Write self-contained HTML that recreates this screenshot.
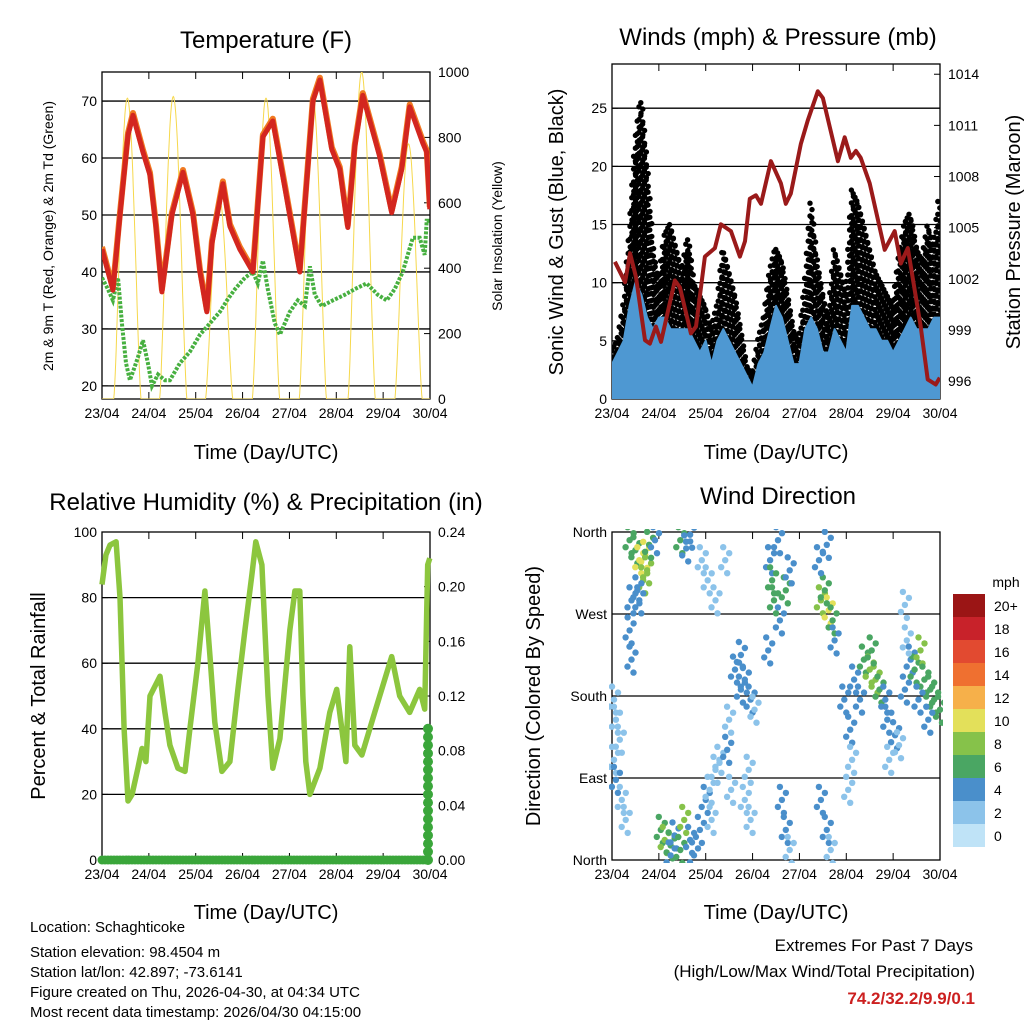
<!DOCTYPE html>
<html><head><meta charset="utf-8">
<style>
body{margin:0;background:#fff;}
svg{display:block;font-family:"Liberation Sans",sans-serif;}
</style></head>
<body>
<svg id="c" width="1024" height="1024" viewBox="0 0 1024 1024" xmlns="http://www.w3.org/2000/svg"></svg>
<script>
// ---------- DATA ----------
const dayLabels = ["23/04","24/04","25/04","26/04","27/04","28/04","29/04","30/04"];
const tempHours = [0,5.6,9.2,13.3,15.9,21,24.6,27.6,30.7,35.8,41.5,46.6,50.2,53.7,56.3,61.9,65.5,70.6,77.3,82.4,87.5,93.6,101.3,108,111.6,117.7,121.8,125.9,129.5,133.6,142.3,148.4,153.5,157.6,164.3,166.3,167.9];
const tempVals  = [44,36.8,50,64,67.5,61,57,48,36.5,50,57.5,50,40,33,45,55.5,48,44,40,63.7,66.5,55,40,70,73.7,61.5,58,47.8,62,71,60.2,50.4,58,69,62.6,61,51];
const tdHours = [0,3,5.6,8.2,10.2,12.3,14.3,16.4,18.4,21,23.5,25.6,28.7,32.2,34.8,39.9,45,50.2,55.3,60.4,64,68.1,73.2,77.3,79.8,82.4,84.9,88.5,91.1,96.2,100.3,103.9,106.5,109,112.6,118.2,124.4,129.5,135.6,141.2,145.8,149.9,154,159.2,162.7,165.3,166.3,167.9];
const tdVals  = [39,37,35,39,31,24,21,23,25,28,24,20,22,21,21,24,26,29,31,33,35,37,39,40,38,42,37,31,29,33,35,34,41,36,34,35,36,37,38,36,35,37,40,46,46,43,49,49];
const solarPeaks = [920,925,620,920,920,1000,780];
const solarNoonHour = [13,36.5,60,84,108,133,157];
const windHours = [0,3,6,9,12,15,18,21,24,27,30,33,36,39,42,45,48,51,54,57,60,63,66,69,72,75,78,81,84,87,90,93,96,99,102,105,108,111,114,117,120,123,126,129,132,135,138,141,144,147,150,153,156,159,162,165,168];
const gustVals = [4,5,8,14,22,26,20,13,10,14,15,13,11,14,10,9,8,6,8,13,11,9,6,3,2,5,7,11,13,12,9,6,5,10,17,12,9,7,13,11,9,18,17,15,13,11,10,9,8,12,15,16,13,12,15,13,18];
const sustVals = [3,4,5,8,10,9,7,6,7,7,6,6,6,6,5,4,5,3,5,6,5,4,3,2,1,3,4,6,8,7,5,3,3,6,7,6,4,4,6,5,4,8,8,7,6,6,5,5,4,5,6,7,6,6,6,7,7];
const presHours = [1.5,6.7,9.2,12.3,16.9,19.4,22.5,25.1,32.2,34.8,40.4,43,47.6,52.7,55.8,60.9,65.5,68.1,70.6,73.7,76.3,81.4,86.5,89,91.6,96.7,100.3,105.4,108,115.7,119.2,122.3,124.9,127.4,132,139.7,144.8,147.9,151.5,158.1,161.7,165.8,167.9];
const presVals  = [1003,1001.8,1003.5,1002.1,998.4,998.2,999.2,998.3,1001.9,1001.5,998.8,999.2,1003.3,1003.8,1005.2,1004.8,1003.3,1004.2,1006.7,1006.9,1006.4,1008.9,1007.6,1006.4,1007,1009.9,1011.3,1013,1012.6,1008.9,1010.3,1009.1,1009.5,1009.1,1007.6,1003.7,1004.8,1002.9,1003.8,999.2,996.1,995.8,996.2];
const rhHours = [0,2,4.1,7.2,9.2,11.3,13.3,15.4,18.4,20.5,22.5,24.6,29.7,32.2,34.8,38.9,42.5,45,49.1,52.7,55.3,57.8,61.4,65.5,69.6,73.2,76.8,78.8,81.9,85,87.5,91.1,96.2,98.8,101.3,102.9,104.4,106.5,111.6,116.7,120.2,122.8,124.9,126.9,129.5,133.1,139.7,144.8,148.4,152.5,157.6,162.7,165.3,166.8,167.9];
const rhVals  = [84,93,96,97,80,40,18,20,28,34,30,50,56,45,35,28,27,40,60,82,62,42,27,30,52,70,87,97,90,50,28,37,70,82,82,50,30,20,28,45,52,40,30,65,35,32,45,55,62,50,45,52,46,90,92];
const precipHours = [0,166,166.6,167.1,167.6,168];
const precipVals  = [0,0,0.02,0.05,0.08,0.1];
const dirHours = [1,2,4,5,7,2,1,9,12,14,17,18,16,13,19,22,10,14,9,10,25,27,30,32,35,40,45,37,30,42,35,38,40,48,50,53,55,51,46,49,53,58,63,66,68,71,60,66,73,59,61,68,71,70,81,83,86,89,80,85,82,91,87,89,91,107,111,109,113,106,110,114,107,110,112,119,122,123,124,127,121,129,132,135,137,133,140,141,145,147,142,153,155,158,160,163,165,168,157,162,150,150,151];
const dirDeg   = [110,88,132,66,44,154,176,351,340,329,335,318,307,296,346,351,285,285,252,220,33,22,16,27,11,22,33,44,5,5,351,342,357,66,77,99,110,44,329,307,285,329,209,187,198,176,154,225,165,121,77,66,44,99,329,285,263,296,230,351,307,318,66,33,11,285,274,296,263,329,346,241,66,33,11,176,143,110,198,176,77,220,209,198,187,230,176,154,137,126,110,220,209,230,198,187,176,165,176,154,187,280,241];
const dirSpeed = [2,3,1,1,2,1,1,5,6,9,10,8,7,4,6,3,4,3,3,3,6,7,5,4,6,3,4,7,4,3,6,4,3,3,2,1,2,2,1,1,1,1,4,3,4,3,2,3,2,3,2,1,1,2,4,5,4,6,3,4,5,3,3,3,2,8,10,6,5,4,3,4,3,3,2,3,3,2,4,3,2,6,7,8,5,6,4,3,3,2,2,4,6,7,5,6,5,6,3,4,3,1,1];
const speedColors = ["#bfe3f7","#8cc3ea","#4a8fcb","#4aa663","#86c24a","#e3e05a","#f6b04a","#ef7030","#e24a30","#c8222a","#9b1515"];
const speedLabels = ["0","2","4","6","8","10","12","14","16","18","20+"];

// ---------- HELPERS ----------
const NS="http://www.w3.org/2000/svg";
const svg=document.getElementById('c');
function el(tag,attrs,parent,name,inter){
  const e=document.createElementNS(NS,tag);
  for(const k in attrs) e.setAttribute(k,attrs[k]);
  
  
  (parent||svg).appendChild(e); return e;
}
function txt(x,y,s,size,anchor,name,extra){
  const a=Object.assign({x:x,y:y,'font-size':size,'text-anchor':anchor||'middle',fill:'#000'},extra||{});
  const t=el('text',a,null,name); t.textContent=s; return t;
}
function interp(hs,vs,t){
  if(t<=hs[0])return vs[0];
  for(let i=1;i<hs.length;i++){ if(t<=hs[i]){const f=(t-hs[i-1])/(hs[i]-hs[i-1]);return vs[i-1]+f*(vs[i]-vs[i-1]);} }
  return vs[vs.length-1];
}
function panel(P){
  P.x=h=>P.x0+(h/168)*(P.x1-P.x0);
  P.y=v=>P.y1-(v-P.ymin)/(P.ymax-P.ymin)*(P.y1-P.y0);
  if(P.ymin2!==undefined) P.y2=v=>P.y1-(v-P.ymin2)/(P.ymax2-P.ymin2)*(P.y1-P.y0);
  return P;
}
function frame(P,name,yTicks,yLab,y2Ticks,y2Lab,grid){
  const g=el('g',{},null,name+'-axes');
  if(grid) yTicks.forEach(v=>{ const yy=P.y(v); if(yy>P.y0+1&&yy<P.y1-1) el('line',{x1:P.x0,x2:P.x1,y1:yy,y2:yy,stroke:'#000','stroke-width':1.3},g,name+'-gridline'); });
  yTicks.forEach((v,i)=>{ const yy=P.y(v);
    el('line',{x1:P.x0,x2:P.x0+6,y1:yy,y2:yy,stroke:'#000','stroke-width':1},g,name+'-ytick');
    txt(P.x0-5,yy+5,yLab[i],14,'end',name+'-ytick-label'); });
  if(y2Ticks) y2Ticks.forEach((v,i)=>{ const yy=P.y2(v);
    el('line',{x1:P.x1-6,x2:P.x1,y1:yy,y2:yy,stroke:'#000','stroke-width':1},g,name+'-y2tick');
    txt(P.x1+8,yy+5,y2Lab[i],14,'start',name+'-y2tick-label'); });
  dayLabels.forEach((d,i)=>{ const xx=P.x(i*24);
    el('line',{x1:xx,x2:xx,y1:P.y1,y2:P.y1-7,stroke:'#000','stroke-width':1},g,name+'-xtick');
    el('line',{x1:xx,x2:xx,y1:P.y0,y2:P.y0+7,stroke:'#000','stroke-width':1},g,name+'-xtick-top');
    txt(xx,P.y1+19,d,14,'middle',name+'-xtick-label'); });
  el('rect',{x:P.x0,y:P.y0,width:P.x1-P.x0,height:P.y1-P.y0,fill:'none',stroke:'#000','stroke-width':1.3},g,name+'-frame');
}
function pathOf(P,hs,vs,yf){ return hs.map((h,i)=>(i?'L':'M')+P.x(h).toFixed(1)+','+(yf||P.y)(vs[i]).toFixed(1)).join(''); }

// ---------- TEMPERATURE ----------
const T=panel({x0:102,x1:430,y0:72,y1:399,ymin:17.7,ymax:75.1,ymin2:0,ymax2:1000});
txt(266,48,"Temperature (F)",24,'middle','temperature-title');
frame(T,'temperature',[20,30,40,50,60,70],["20","30","40","50","60","70"],[0,200,400,600,800,1000],["0","200","400","600","800","1000"],true);
const clipT=el('clipPath',{id:'clipT'},null,'temp-clip'); el('rect',{x:102,y:72,width:328,height:327},clipT,'temp-clip-rect');
const gT=el('g',{'clip-path':'url(#clipT)'},null,'temperature-series');
let sp='';
for(let h=0;h<=168;h+=0.25){
  let v=0;
  solarNoonHour.forEach((n,i)=>{ const d=Math.abs(h-n); if(d<7) v=Math.max(v,solarPeaks[i]*Math.pow(Math.cos(d/7*Math.PI/2),1.4)); });
  sp+=(h?'L':'M')+T.x(h).toFixed(1)+','+T.y2(v).toFixed(1);
}
el('path',{d:sp,fill:'none',stroke:'#f6d84c','stroke-width':1},gT,'solar-insolation-line');
el('path',{d:pathOf(T,tdHours,tdVals),fill:'none',stroke:'#47b040','stroke-width':4,'stroke-dasharray':'3 1.5'},gT,'dewpoint-line');
el('path',{d:pathOf(T,tempHours,tempVals.map(v=>v+0.4)),fill:'none',stroke:'#f07a22','stroke-width':6,'stroke-linejoin':'round'},gT,'temp-9m-line');
el('path',{d:pathOf(T,tempHours,tempVals),fill:'none',stroke:'#d3261f','stroke-width':5,'stroke-linejoin':'round'},gT,'temp-2m-line');
txt(266,459,"Time (Day/UTC)",20,'middle','temperature-x-title');
txt(0,0,"2m & 9m T (Red, Orange) & 2m Td (Green)",14,'middle','temperature-y-title',{transform:'translate(53,236) rotate(-90)'});
txt(0,0,"Solar Insolation (Yellow)",14,'middle','solar-y-title',{transform:'translate(502,236) rotate(-90)'});

// ---------- WINDS ----------
const W=panel({x0:612,x1:940,y0:64,y1:399,ymin:0,ymax:28.8,ymin2:994.95,ymax2:1014.6});
txt(778,45,"Winds (mph) & Pressure (mb)",24,'middle','winds-title');
frame(W,'winds',[0,5,10,15,20,25],["0","5","10","15","20","25"],[996,999,1002,1005,1008,1011,1014],["996","999","1002","1005","1008","1011","1014"],true);
const clipW=el('clipPath',{id:'clipW'},null,'wind-clip'); el('rect',{x:612,y:64,width:328,height:335},clipW,'wind-clip-rect');
const gW=el('g',{'clip-path':'url(#clipW)'},null,'winds-series');
for(let px=613;px<=940;px+=1.8){
  const h=(px-612)/328*168;
  const g=interp(windHours,gustVals,h), s=interp(windHours,sustVals,h);
  let k=0;
  for(let v=g; v>=Math.max(0.5,s*0.5); v-=0.55){
    el('circle',{cx:(px+((k%2)?1:-1)).toFixed(1),cy:W.y(v).toFixed(1),r:2.7,fill:'#000'},gW,'gust-point'); k++;
  }
}
let bp='M'+W.x(0)+','+W.y(0);
windHours.forEach((h,i)=>{ bp+='L'+W.x(h).toFixed(1)+','+W.y(sustVals[i]).toFixed(1); });
bp+='L'+W.x(168)+','+W.y(0)+'Z';
el('path',{d:bp,fill:'#4e98d2',stroke:'#4e98d2','stroke-width':2,'stroke-linejoin':'round'},gW,'sustained-wind-area');
el('path',{d:pathOf(W,presHours,presVals,W.y2),fill:'none',stroke:'#9a1a1a','stroke-width':4,'stroke-linejoin':'round'},gW,'pressure-line');
txt(776,459,"Time (Day/UTC)",20,'middle','winds-x-title');
txt(0,0,"Sonic Wind & Gust (Blue, Black)",20,'middle','winds-y-title',{transform:'translate(563,232) rotate(-90)'});
txt(0,0,"Station Pressure (Maroon)",20,'middle','pressure-y-title',{transform:'translate(1020,232) rotate(-90)'});

// ---------- RH ----------
const R=panel({x0:102,x1:430,y0:532,y1:860,ymin:0,ymax:100,ymin2:0,ymax2:0.24});
txt(266,510,"Relative Humidity (%) & Precipitation (in)",24,'middle','rh-title');
frame(R,'rh',[0,20,40,60,80,100],["0","20","40","60","80","100"],[0,0.04,0.08,0.12,0.16,0.2,0.24],["0.00","0.04","0.08","0.12","0.16","0.20","0.24"],true);
el('path',{d:pathOf(R,rhHours,rhVals),fill:'none',stroke:'#8cc63e','stroke-width':5.5,'stroke-linejoin':'round'},null,'rh-line');
for(let px=102;px<=426;px+=3){ const h=(px-102)/328*168; el('circle',{cx:px,cy:R.y2(interp(precipHours,precipVals,h)),r:4.5,fill:'#3aa63a'},null,'precip-point'); }
for(let v=0;v<=0.1;v+=0.006){ el('circle',{cx:428,cy:R.y2(v).toFixed(1),r:5,fill:'#3aa63a'},null,'precip-point'); }
txt(266,919,"Time (Day/UTC)",20,'middle','rh-x-title');
txt(0,0,"Percent & Total Rainfall",20,'middle','rh-y-title',{transform:'translate(45,696) rotate(-90)'});

// ---------- WIND DIRECTION ----------
const D=panel({x0:612,x1:940,y0:532,y1:860,ymin:0,ymax:360});
txt(778,504,"Wind Direction",24,'middle','wind-direction-title');
frame(D,'wind-direction',[0,90,180,270,360],["North","East","South","West","North"],null,null,true);
const clipD=el('clipPath',{id:'clipD'},null,'dir-clip'); el('rect',{x:609,y:529,width:334,height:334},clipD,'dir-clip-rect');
const gD=el('g',{'clip-path':'url(#clipD)'},null,'wind-direction-series');
const spread=[[0,0],[-4,7],[4,-7],[2,13],[-2,-13]];
dirHours.forEach((h,i)=>{
  const ci=Math.min(10,Math.round(dirSpeed[i]/2));
  spread.forEach(o=>{
    el('circle',{cx:(D.x(h)+o[0]).toFixed(1),cy:(D.y(dirDeg[i])+o[1]).toFixed(1),r:3.2,fill:speedColors[ci]},gD,'wind-direction-point');
  });
});
txt(776,919,"Time (Day/UTC)",20,'middle','wind-direction-x-title');
txt(0,0,"Direction (Colored By Speed)",20,'middle','wind-direction-y-title',{transform:'translate(540,696) rotate(-90)'});
txt(1006,587,"mph",14,'middle','colorbar-title');
for(let i=0;i<11;i++){
  const y=594+i*23;
  el('rect',{x:953,y:y,width:32,height:23,fill:speedColors[10-i]},null,'colorbar-swatch');
  txt(994,y+17,speedLabels[10-i],14,'start','colorbar-label');
}

// ---------- FOOTER ----------
const foot=["Location: Schaghticoke","Station elevation: 98.4504 m","Station lat/lon: 42.897; -73.6141","Figure created on Thu, 2026-04-30, at 04:34 UTC","Most recent data timestamp: 2026/04/30 04:15:00"];
const fy=[935,960,980,1000,1020];
foot.forEach((s,i)=>txt(30,fy[i]-3,s,15,'start','footer-line'));
txt(973,951,"Extremes For Past 7 Days",17,'end','extremes-title');
txt(975,977,"(High/Low/Max Wind/Total Precipitation)",17,'end','extremes-subtitle');
txt(975,1004,"74.2/32.2/9.9/0.1",17,'end','extremes-values',{fill:'#cc2020','font-weight':'bold'});
</script>
</body></html>
